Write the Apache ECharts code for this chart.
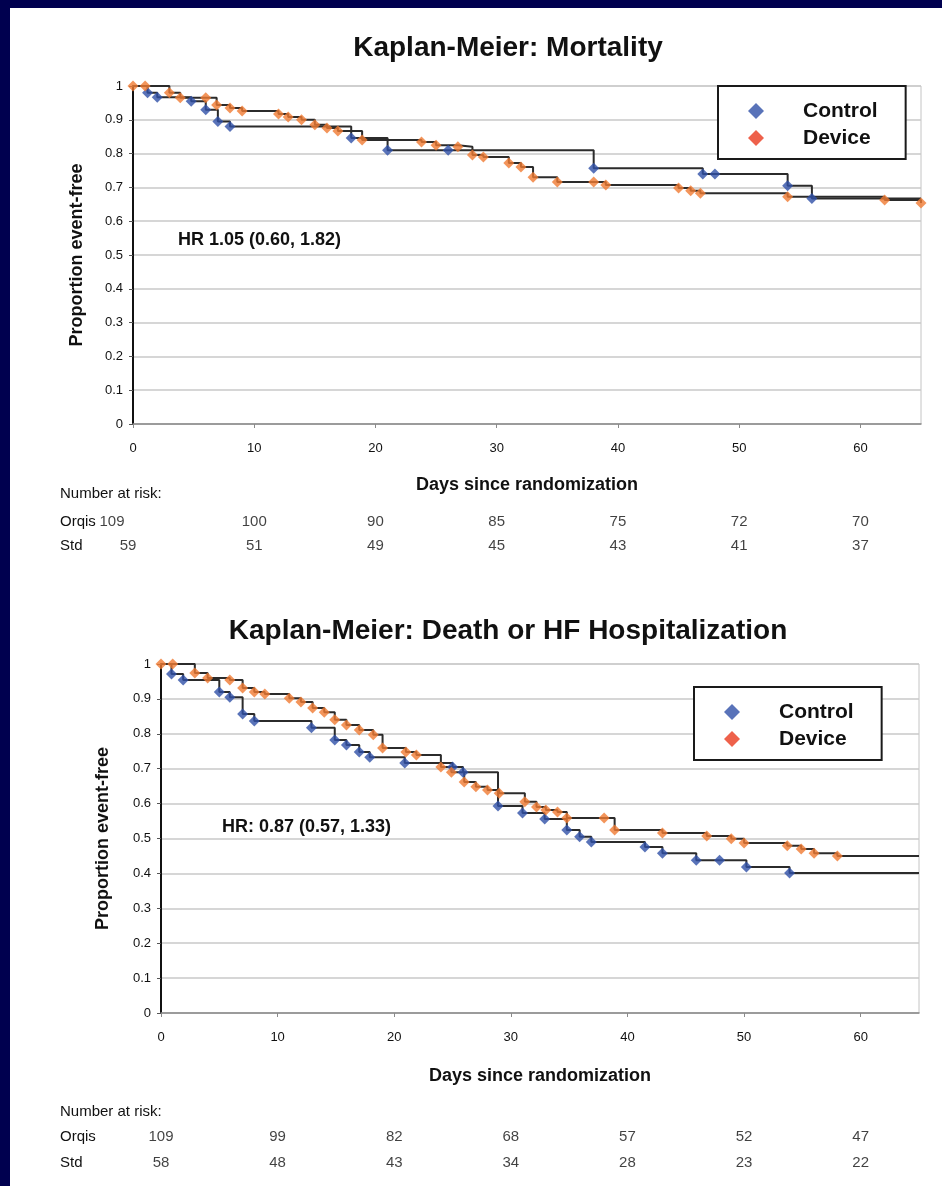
<!DOCTYPE html>
<html><head><meta charset="utf-8">
<script src="https://cdn.jsdelivr.net/npm/echarts@6/dist/echarts.min.js"></script>
<style>
html,body{margin:0;padding:0;background:#00004f;width:942px;height:1186px;overflow:hidden}
#c{position:absolute;left:10px;top:8px;width:932px;height:1178px;background:#fff}
</style>
</head><body><div id="c"></div>
<script>
// ---------- DATA ----------
const followUpStart = 0;
const followUpEnd = 65;

// Chart 1: Mortality
const mortControlDays = [1.2, 2, 4.8, 6, 7, 8, 18, 21, 26, 38, 47, 48, 54, 56];
const mortControlSurv = [0.98, 0.967, 0.955, 0.93, 0.895, 0.88, 0.846, 0.81, 0.81, 0.757, 0.74, 0.74, 0.705, 0.667];
const mortDeviceDays = [0, 1, 3, 3.9, 6, 6.9, 8, 9, 12, 12.8, 13.9, 15, 16, 16.9, 18.9, 23.8, 25, 26.8, 28, 28.9, 31, 32, 33, 35, 38, 39, 45, 46, 46.8, 54, 62, 65];
const mortDeviceSurv = [1, 1, 0.98, 0.965, 0.965, 0.944, 0.935, 0.926, 0.917, 0.908, 0.9, 0.885, 0.876, 0.867, 0.84, 0.834, 0.825, 0.82, 0.796, 0.79, 0.772, 0.76, 0.73, 0.716, 0.716, 0.707, 0.698, 0.69, 0.683, 0.672, 0.663, 0.654];

// Chart 2: Death or HF Hospitalization
const hfControlDays = [0.9, 1.9, 5, 5.9, 7, 8, 12.9, 14.9, 15.9, 17, 17.9, 20.9, 25, 25.9, 28.9, 31, 32.9, 34.8, 35.9, 36.9, 41.5, 43, 45.9, 47.9, 50.2, 53.9];
const hfControlSurv = [0.971, 0.954, 0.92, 0.905, 0.857, 0.837, 0.817, 0.782, 0.768, 0.748, 0.733, 0.716, 0.705, 0.69, 0.593, 0.573, 0.556, 0.524, 0.505, 0.49, 0.476, 0.458, 0.438, 0.438, 0.418, 0.401];
const hfDeviceDays = [0, 1, 2.9, 4, 5.9, 7, 8, 8.9, 11, 12, 13, 14, 14.9, 15.9, 17, 18.2, 19, 21, 21.9, 24, 24.9, 26, 27, 28, 29, 31.2, 32.2, 33, 34, 34.8, 38, 38.9, 43, 46.8, 48.9, 50, 53.7, 54.9, 56, 58];
const hfDeviceSurv = [1, 1, 0.974, 0.96, 0.954, 0.931, 0.92, 0.914, 0.902, 0.891, 0.874, 0.862, 0.84, 0.825, 0.811, 0.797, 0.759, 0.748, 0.739, 0.705, 0.69, 0.662, 0.648, 0.639, 0.63, 0.605, 0.59, 0.582, 0.576, 0.559, 0.559, 0.524, 0.516, 0.507, 0.499, 0.487, 0.479, 0.47, 0.458, 0.45];

// Number at risk
const riskDays = [0, 10, 20, 30, 40, 50, 60];
const mortRiskOrqis = [109, 100, 90, 85, 75, 72, 70];
const mortRiskStd = [59, 51, 49, 45, 43, 41, 37];
const hfRiskOrqis = [109, 99, 82, 68, 57, 52, 47];
const hfRiskStd = [58, 48, 43, 34, 28, 23, 22];
const riskRows = ['Std', 'Orqis'];

const titles = ['Kaplan-Meier: Mortality', 'Kaplan-Meier: Death or HF Hospitalization'];
const hrTexts = ['HR 1.05 (0.60, 1.82)', 'HR: 0.87 (0.57, 1.33)'];
const yTickLabels = ['0', '0.1', '0.2', '0.3', '0.4', '0.5', '0.6', '0.7', '0.8', '0.9', '1'];

// ---------- BUILD ----------
const FONT = 'Liberation Sans';
const BLUE = '#3050a8', ORANGE = '#f07a32', RED = '#ea3a1e', STEP = '#2b2b2b';

const pts = (d, s) => d.map((x, i) => [x, s[i]]);
function stepData(d, s) {
  const p = pts(d, s);
  if (p[0][0] !== followUpStart) p.unshift([followUpStart, 1]);
  p.push([followUpEnd, s[s.length - 1]]);
  return p;
}

const grids = [
  { left: 123, right: 21, top: 78, height: 338 },
  { left: 151, right: 23, top: 656, height: 349 },
  { left: 123, right: 21, top: 502, height: 48 },
  { left: 151, right: 23, top: 1116, height: 52 }
].map(g => Object.assign({ show: true, borderColor: '#c4c4c4', borderWidth: 1, backgroundColor: 'transparent' }, g));
grids[2].show = false; grids[3].show = false;

function plotX(gi, gap) {
  return {
    type: 'value', gridIndex: gi, min: 0, max: 65, interval: 10,
    name: 'Days since randomization', nameLocation: 'middle', nameGap: gap,
    nameTextStyle: { fontFamily: FONT, fontWeight: 'bold', fontSize: 18, color: '#111' },
    axisLine: { lineStyle: { color: '#8a8a8a', width: 1.5 } },
    axisTick: { show: true, length: 4, lineStyle: { color: '#8a8a8a' } },
    axisLabel: { fontFamily: FONT, fontSize: 13, color: '#111', margin: 18, showMaxLabel: false },
    splitLine: { show: false }
  };
}
function plotY(gi, gap) {
  return {
    type: 'value', gridIndex: gi, min: 0, max: 1, interval: 0.1,
    name: 'Proportion event-free', nameLocation: 'middle', nameGap: gap, nameRotate: 90,
    nameTextStyle: { fontFamily: FONT, fontWeight: 'bold', fontSize: 18, color: '#111' },
    axisLine: { show: true, lineStyle: { color: '#111', width: 2 } },
    axisTick: { show: true, length: 4, lineStyle: { color: '#555' } },
    axisLabel: { fontFamily: FONT, fontSize: 13, color: '#111', margin: 10,
      formatter: v => yTickLabels[Math.round(v * 10)] },
    splitLine: { show: true, lineStyle: { color: '#c8c8c8', width: 1.5 } }
  };
}
function tableX(gi) { return { type: 'value', gridIndex: gi, min: 0, max: 65, show: false }; }
function tableY(gi) { return { type: 'category', gridIndex: gi, data: riskRows, show: false }; }

function kmSeries(gi, name, d, s, color, symbol) {
  return [
    { type: 'line', name: name + ' curve', xAxisIndex: gi, yAxisIndex: gi, step: 'end',
      data: stepData(d, s), showSymbol: false, symbol: 'none',
      lineStyle: { color: STEP, width: 2 }, z: 2, silent: true, animation: false },
    { type: 'scatter', name: name, xAxisIndex: gi, yAxisIndex: gi, data: pts(d, s),
      symbol: symbol, symbolSize: 11, itemStyle: { color: color }, z: 3, animation: false }
  ];
}
function riskSeries(gi, row, vals, firstOffset) {
  return {
    type: 'scatter', name: 'risk', xAxisIndex: gi, yAxisIndex: gi, symbolSize: 0, animation: false, silent: true,
    data: vals.map((v, i) => ({
      value: [riskDays[i], row, v],
      label: { offset: [i === 0 ? firstOffset : 0, 0] }
    })),
    label: { show: true, position: 'inside', formatter: p => String(p.value[2]),
      fontFamily: FONT, fontSize: 15, color: '#111' }
  };
}

function txt(x, y, text, size, bold, align) {
  return { type: 'text', x: x, y: y, silent: true,
    style: { text: text, fontFamily: FONT, fontSize: size, fontWeight: bold ? 'bold' : 'normal',
      fill: '#111', textAlign: align || 'left', textVerticalAlign: 'middle' } };
}

function legend(left, top) {
  return {
    orient: 'vertical', left: left, top: top,
    data: [
      { name: 'Control', itemStyle: { color: BLUE } },
      { name: 'Device', itemStyle: { color: RED } }
    ],
    icon: 'diamond', itemWidth: 16, itemHeight: 16, itemGap: 5,
    padding: [14, 28, 10, 30],
    borderColor: '#1a1a1a', borderWidth: 2, backgroundColor: '#fff',
    textStyle: { fontFamily: FONT, fontWeight: 'bold', fontSize: 21, color: '#111', lineHeight: 22,
      padding: [0, 0, 0, 34] },
    selectedMode: false
  };
}

const option = {
  backgroundColor: '#fff',
  animation: false,
  grid: grids,
  xAxis: [plotX(0, 52), plotX(1, 54), tableX(2), tableX(3)],
  yAxis: [plotY(0, 47), plotY(1, 49), tableY(2), tableY(3)],
  legend: [legend(708, 78), legend(684, 679)],
  series: [
    ...kmSeries(0, 'Control', mortControlDays, mortControlSurv, BLUE, 'diamond'),
    ...kmSeries(0, 'Device', mortDeviceDays, mortDeviceSurv, ORANGE, 'diamond'),
    ...kmSeries(1, 'Control', hfControlDays, hfControlSurv, BLUE, 'diamond'),
    ...kmSeries(1, 'Device', hfDeviceDays, hfDeviceSurv, ORANGE, 'diamond'),
    riskSeries(2, 'Orqis', mortRiskOrqis, -21),
    riskSeries(2, 'Std', mortRiskStd, -5),
    riskSeries(3, 'Orqis', hfRiskOrqis, 0),
    riskSeries(3, 'Std', hfRiskStd, 0)
  ],
  graphic: [
    txt(498, 40, titles[0], 28, true, 'center'),
    txt(498, 623, titles[1], 28, true, 'center'),
    txt(168, 232, hrTexts[0], 18, true),
    txt(212, 819, hrTexts[1], 18, true),
    txt(50, 486, 'Number at risk:', 15, false),
    txt(50, 514, 'Orqis', 15, false),
    txt(50, 538, 'Std', 15, false),
    txt(50, 1104, 'Number at risk:', 15, false),
    txt(50, 1129, 'Orqis', 15, false),
    txt(50, 1155, 'Std', 15, false)
  ]
};

const chart = echarts.init(document.getElementById('c'), null, { renderer: 'canvas' });
chart.setOption(option);
</script>
</body></html>
